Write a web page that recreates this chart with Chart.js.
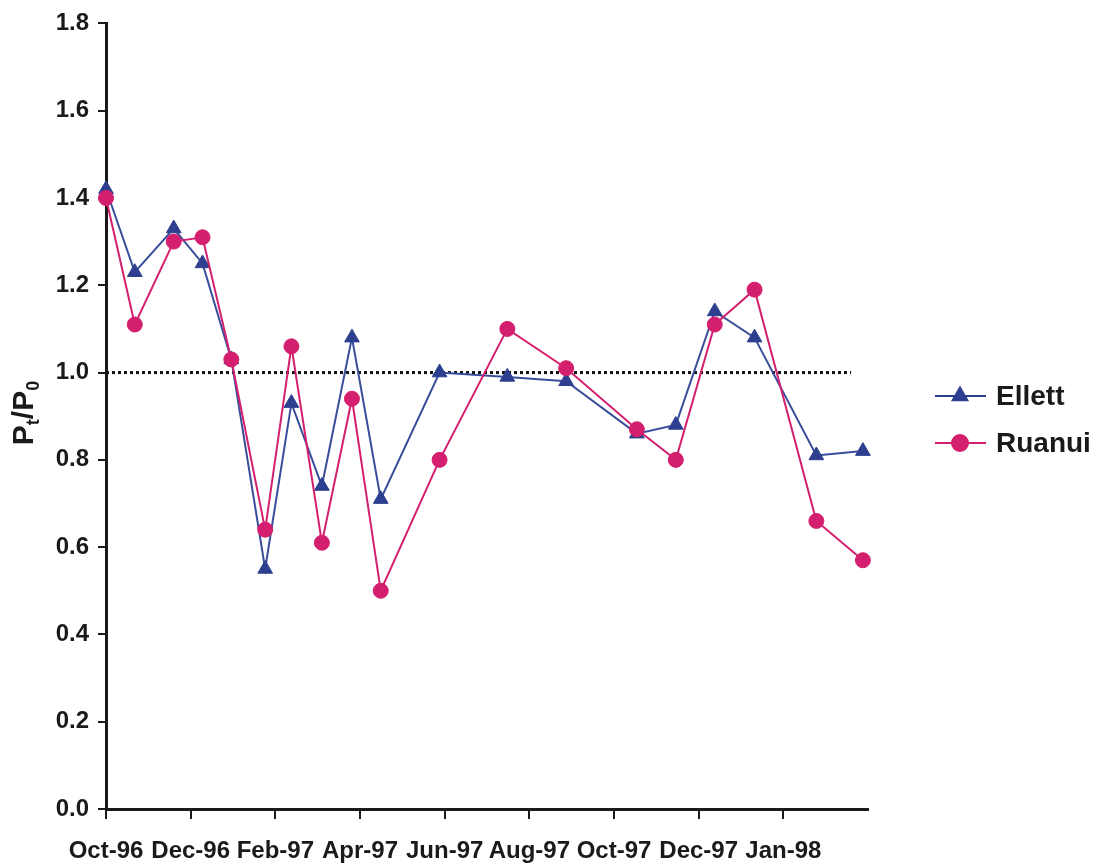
<!DOCTYPE html>
<html>
<head>
<meta charset="utf-8">
<script src="https://cdn.jsdelivr.net/npm/chart.js@4.4.1/dist/chart.umd.min.js"></script>
<style>
  html, body { margin: 0; padding: 0; background: #fff; }
  #wrap { width: 1108px; height: 864px; position: relative; }
</style>
</head>
<body>
<div id="wrap"><canvas id="ratioChart" width="1108" height="864"></canvas></div>
<script>
// sampling dates, in months after Oct-96
const sampleMonths = [0, 0.68, 1.6, 2.28, 2.96, 3.76, 4.38, 5.1, 5.81, 6.49, 7.88, 9.48, 10.87, 12.54, 13.46, 14.38, 15.32, 16.78, 17.88];
const ellett = [1.42, 1.23, 1.33, 1.25, 1.03, 0.55, 0.93, 0.74, 1.08, 0.71, 1.00, 0.99, 0.98, 0.86, 0.88, 1.14, 1.08, 0.81, 0.82];
const ruanui = [1.40, 1.11, 1.30, 1.31, 1.03, 0.64, 1.06, 0.61, 0.94, 0.50, 0.80, 1.10, 1.01, 0.87, 0.80, 1.11, 1.19, 0.66, 0.57];
const monthLabels = ['Oct-96', 'Dec-96', 'Feb-97', 'Apr-97', 'Jun-97', 'Aug-97', 'Oct-97', 'Dec-97', 'Jan-98'];
const refLine = [{ x: 0, y: 1.0 }, { x: 17.6, y: 1.0 }];

const INK = '#1a1a1a';
const BLUE = '#2d3f8e';
const PINK = '#d41f6e';
const FONT = "'Liberation Sans', Arial, Helvetica, sans-serif";

const toPoints = vals => vals.map((v, i) => ({ x: sampleMonths[i], y: v }));

// y title with subscripts, and a legend showing line + marker
const extras = {
  id: 'extras',
  afterDraw(chart) {
    const ctx = chart.ctx;
    ctx.save();
    ctx.fillStyle = INK;
    ctx.translate(33, 413);
    ctx.rotate(-Math.PI / 2);
    ctx.textBaseline = 'alphabetic';
    const big = 'bold 30px ' + FONT;
    const small = 'bold 18px ' + FONT;
    const parts = [['P', big, 0], ['t', small, 6], ['/P', big, 0], ['0', small, 6]];
    let w = 0;
    parts.forEach(p => { ctx.font = p[1]; w += ctx.measureText(p[0]).width; });
    let x = -w / 2;
    parts.forEach(p => {
      ctx.font = p[1];
      ctx.fillText(p[0], x, p[2]);
      x += ctx.measureText(p[0]).width;
    });
    ctx.restore();

    const items = [
      { label: 'Ellett', color: BLUE, style: 'triangle', r: 8.5, y: 396 },
      { label: 'Ruanui', color: PINK, style: 'circle', r: 8, y: 443 }
    ];
    ctx.save();
    items.forEach(it => {
      ctx.strokeStyle = it.color;
      ctx.lineWidth = 2;
      ctx.beginPath();
      ctx.moveTo(935, it.y);
      ctx.lineTo(986, it.y);
      ctx.stroke();
      ctx.fillStyle = it.color;
      Chart.helpers.drawPoint(ctx, { pointStyle: it.style, radius: it.r, borderWidth: 1 }, 960, it.y);
      ctx.fillStyle = INK;
      ctx.font = 'bold 28px ' + FONT;
      ctx.textBaseline = 'middle';
      ctx.textAlign = 'left';
      ctx.fillText(it.label, 996, it.y + 1);
    });
    ctx.restore();
  }
};

new Chart(document.getElementById('ratioChart'), {
  type: 'line',
  data: {
    datasets: [
      {
        label: 'Ellett',
        data: toPoints(ellett),
        borderColor: '#3a4d9a',
        backgroundColor: BLUE,
        pointBorderColor: BLUE,
        borderWidth: 2,
        pointStyle: 'triangle',
        pointRadius: 8.5,
        pointBorderWidth: 1,
        tension: 0,
        clip: false,
        order: 2
      },
      {
        label: 'Ruanui',
        data: toPoints(ruanui),
        borderColor: PINK,
        backgroundColor: PINK,
        pointBorderColor: PINK,
        borderWidth: 2,
        pointStyle: 'circle',
        pointRadius: 7.5,
        pointBorderWidth: 1,
        tension: 0,
        clip: false,
        order: 1
      },
      {
        label: 'ref',
        data: refLine,
        borderColor: '#111',
        borderWidth: 3,
        borderDash: [3, 3],
        pointRadius: 0,
        order: 3
      }
    ]
  },
  options: {
    responsive: false,
    animation: false,
    events: [],
    layout: { padding: { left: 0, top: 21, right: 240, bottom: 0 } },
    plugins: { legend: { display: false }, tooltip: { enabled: false } },
    scales: {
      x: {
        type: 'linear',
        min: 0,
        max: 18,
        afterFit: s => { s.height = 864 - 809; },
        border: { color: INK, width: 3 },
        grid: {
          drawOnChartArea: false,
          tickLength: 10,
          lineWidth: 2,
          color: c => (c.tick && c.tick.value === 18 ? 'rgba(0,0,0,0)' : INK)
        },
        ticks: {
          stepSize: 2,
          maxRotation: 0,
          autoSkip: false,
          padding: 18,
          color: INK,
          font: { family: FONT, size: 24, weight: 'bold' },
          callback: v => monthLabels[v / 2] || ''
        }
      },
      y: {
        min: 0,
        max: 1.8,
        afterFit: s => { s.width = 106; },
        border: { color: INK, width: 3 },
        grid: { drawOnChartArea: false, tickLength: 8, lineWidth: 2, color: INK },
        ticks: {
          stepSize: 0.2,
          padding: 9,
          color: INK,
          font: { family: FONT, size: 24, weight: 'bold' },
          callback: v => v.toFixed(1)
        }
      }
    }
  },
  plugins: [extras]
});
</script>
</body>
</html>
